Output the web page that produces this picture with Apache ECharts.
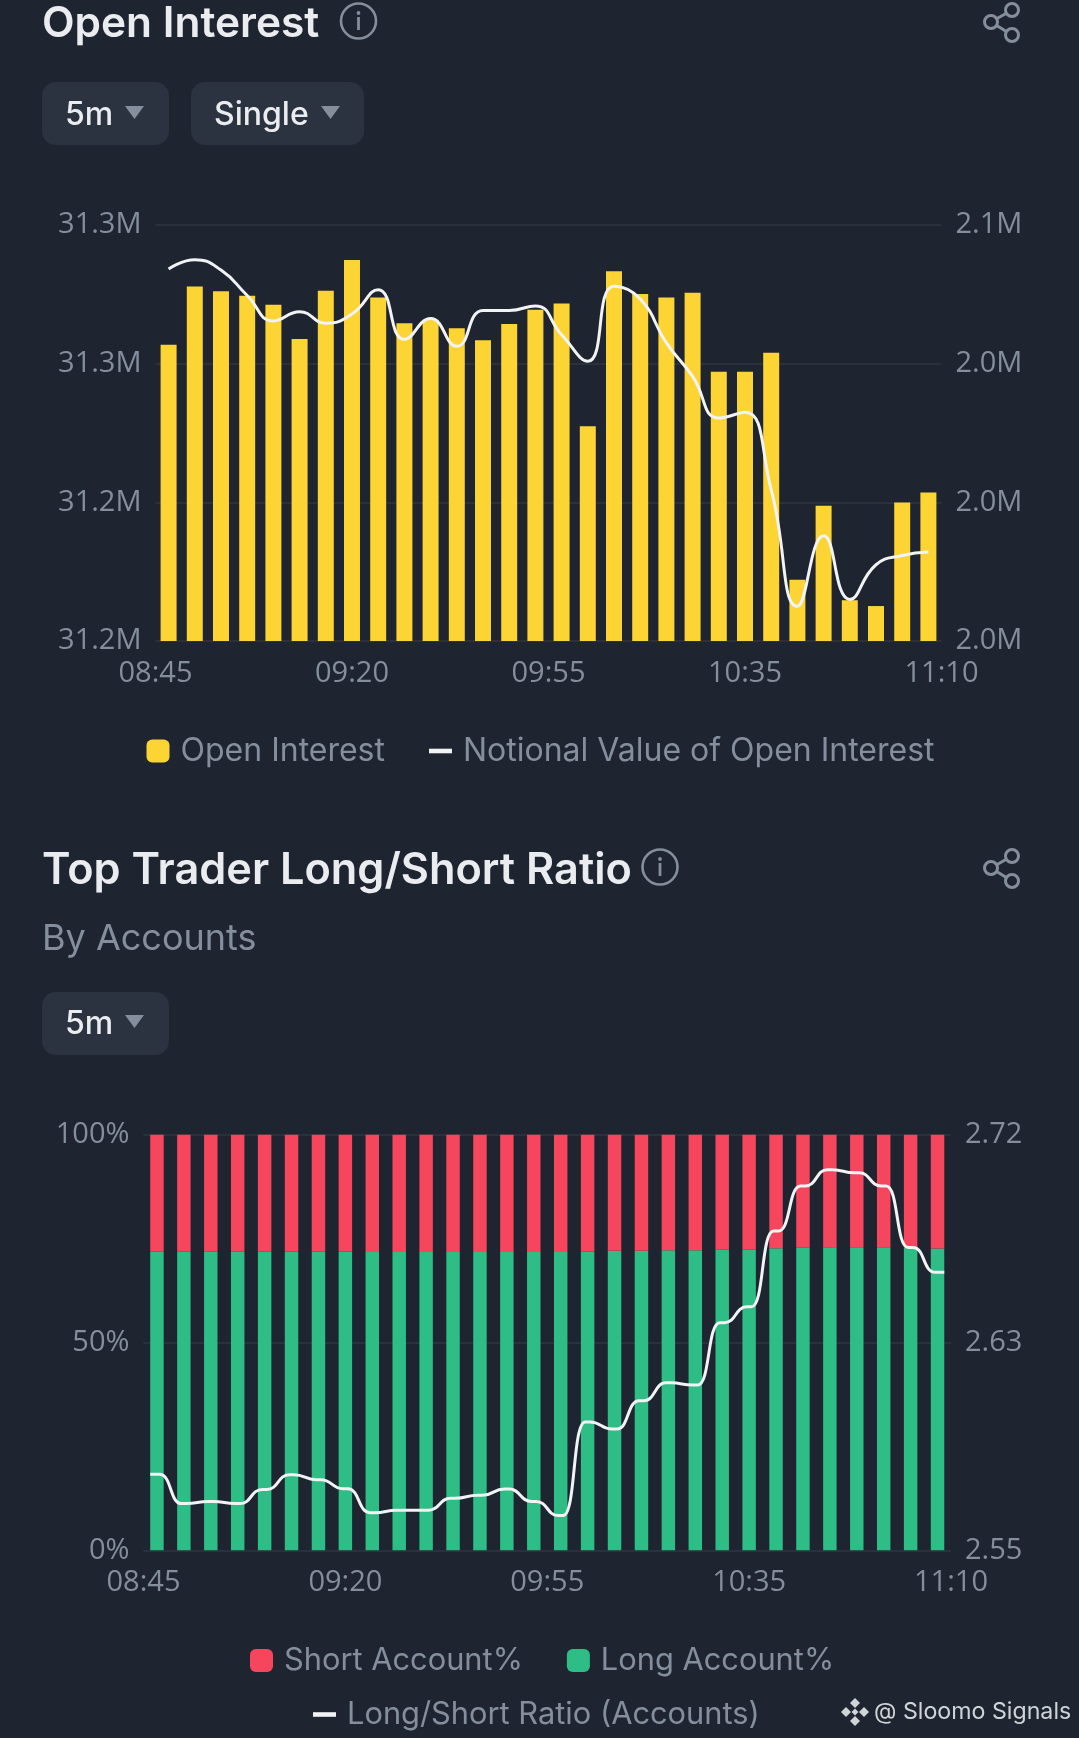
<!DOCTYPE html>
<html><head><meta charset="utf-8">
<style>html,body{margin:0;padding:0;background:#1e2530}#c{width:1079px;height:1738px}</style>
<script src="https://cdn.jsdelivr.net/npm/echarts@6/dist/echarts.min.js"></script>
</head><body><div id="c"></div>
<script>
const times = ['08:45','08:50','08:55','09:00','09:05','09:10','09:15','09:20','09:25','09:30','09:35','09:40','09:45','09:50','09:55','10:00','10:05','10:10','10:15','10:20','10:25','10:30','10:35','10:40','10:45','10:50','10:55','11:00','11:05','11:10'];
const tickLabels = ['08:45','09:20','09:55','10:35','11:10'];
const openInterest = [31.2712,31.2852,31.2841,31.2830,31.2808,31.2726,31.2842,31.2916,31.2826,31.2764,31.2772,31.2752,31.2723,31.2762,31.2796,31.2811,31.2516,31.2889,31.2834,31.2826,31.2837,31.2647,31.2647,31.2693,31.2147,31.2325,31.2098,31.2084,31.2333,31.2357];
const notionalValue = [2.0482,2.0490,2.0481,2.0459,2.0437,2.0445,2.0435,2.0443,2.0464,2.0421,2.0439,2.0415,2.0446,2.0446,2.0450,2.0425,2.0402,2.0467,2.0456,2.0418,2.0389,2.0353,2.0358,2.0291,2.0190,2.0251,2.0196,2.0226,2.0234,2.0237];
const longAccount = [71.9,71.9,71.9,71.9,71.9,71.9,71.9,71.9,71.8,71.8,71.8,71.8,71.8,71.8,71.8,71.8,71.9,72.1,72.1,72.2,72.2,72.3,72.4,72.7,72.8,72.9,72.9,72.9,72.8,72.6];
const shortAccount = [28.1,28.1,28.1,28.1,28.1,28.1,28.1,28.1,28.2,28.2,28.2,28.2,28.2,28.2,28.2,28.2,28.1,27.9,27.9,27.8,27.8,27.7,27.6,27.3,27.2,27.1,27.1,27.1,27.2,27.4];
const ratio = [2.5811,2.5691,2.5700,2.5691,2.5749,2.5809,2.5789,2.5752,2.5654,2.5664,2.5664,2.5713,2.5725,2.5751,2.5700,2.5642,2.6025,2.5996,2.6112,2.6185,2.6176,2.6431,2.6496,2.6806,2.6990,2.7057,2.7044,2.6990,2.6739,2.6637];

const FONT = 'Inter', AXISFONT = 'Open Sans';
const GREY = '#848e9c', WHITE = '#eaecef', PILL = '#2b3240', GRID = '#2f3642';
const YELLOW = '#fcd535', RED = '#f6465d', GREEN = '#2ebd85';
const LINE_ICON = 'path://M0 40h100v20H0z';
const fmtM = v => v.toFixed(1) + 'M';

function axisX(gridIndex){
  return [
    {type:'category',gridIndex,data:times,axisLabel:{show:false},axisTick:{show:false},axisLine:{show:false}},
    {type:'value',gridIndex,min:0,max:4,interval:1,position:'bottom',splitLine:{show:false},axisTick:{show:false},
     axisLine:{show:false},
     axisLabel:{color:GREY,fontFamily:AXISFONT,fontSize:29,margin:18,formatter:v=>tickLabels[v]}}
  ];
}
function axisY(gridIndex,pos,min,max,interval,fmt,grid){
  return {type:'value',gridIndex,position:pos,min,max,interval,
    axisLine:{show:false},axisTick:{show:false},
    splitLine:{show:grid,lineStyle:{color:GRID,width:1.5}},
    axisLabel:{color:GREY,fontFamily:AXISFONT,fontSize:29,margin:14,formatter:fmt,showMinLabel:true,showMaxLabel:true}};
}
const lineSeries = (name,data,x,y) => ({name,type:'line',data,xAxisIndex:x,yAxisIndex:y,smooth:0.5,showSymbol:false,symbol:'none',
  lineStyle:{color:'#f1f3f5',width:3},itemStyle:{color:'#f1f3f5'},z:5});
const legendStyle = size => ({color:GREY,fontFamily:FONT,fontSize:size,rich:{t:{color:GREY,fontFamily:FONT,fontSize:size,padding:[0,0,0,6]}}});
const legendFmt = '{t|{name}}';
// the ratio line eases flat across each bar, as the reference draws it
const ratioPoints = ratio.flatMap((v,i)=>[[i+0.41,v],[i+0.59,v]]);
ratioPoints[0][0] = 0.25; ratioPoints[ratioPoints.length-1][0] = 29.75;

function txt(x,y,text,size,weight,fill){
  return {type:'text',x,y,style:{text,fontFamily:FONT,fontSize:size,fontWeight:weight,fill,textVerticalAlign:'middle',verticalAlign:'middle'}};
}
function pill(x,y,w,h){return {type:'rect',shape:{x,y,width:w,height:h,r:14},style:{fill:PILL}};}
function tri(x,y){return {type:'polygon',shape:{points:[[x,y],[x+19,y],[x+9.5,y+13]]},style:{fill:GREY}};}
function info(cx,cy){
  return [{type:'circle',shape:{cx,cy,r:17.5},style:{fill:'none',stroke:GREY,lineWidth:2.6}},
    {type:'rect',shape:{x:cx-1.4,y:cy-4,width:2.8,height:13},style:{fill:GREY}},
    {type:'circle',shape:{cx,cy:cy-8,r:1.9},style:{fill:GREY}}];
}
function share(cx,cy){
  const a=[cx+11,cy-12],b=[cx-10,cy],c=[cx+11,cy+13];
  const s={fill:'none',stroke:GREY,lineWidth:3};
  return [{type:'line',shape:{x1:a[0],y1:a[1],x2:b[0],y2:b[1]},style:s},
    {type:'line',shape:{x1:c[0],y1:c[1],x2:b[0],y2:b[1]},style:s},
    {type:'circle',shape:{cx:a[0],cy:a[1],r:6.5},style:{fill:'#1e2530',stroke:GREY,lineWidth:3}},
    {type:'circle',shape:{cx:b[0],cy:b[1],r:6.5},style:{fill:'#1e2530',stroke:GREY,lineWidth:3}},
    {type:'circle',shape:{cx:c[0],cy:c[1],r:6.5},style:{fill:'#1e2530',stroke:GREY,lineWidth:3}}];
}
function diamond(cx,cy,r){return {type:'polygon',shape:{points:[[cx,cy-r],[cx+r,cy],[cx,cy+r],[cx-r,cy]]},style:{fill:'#d0d3d8'}};}
const graphics = [
  txt(42,24,'Open Interest',42.4,600,WHITE),...info(358.5,21),...share(1001,22),
  pill(42,82,127,63),txt(65,115,'5m',32,500,WHITE),tri(125,106),
  pill(191,82,173,63),txt(214,115,'Single',32,500,WHITE),tri(321,106),
  txt(42,871,'Top Trader Long/Short Ratio',43.3,600,WHITE),...info(660,867),...share(1001,868),
  txt(42,939,'By Accounts',36,400,GREY),
  pill(42,992,127,63),txt(65,1024,'5m',32,500,WHITE),tri(125,1015),
  diamond(855,1703,5),diamond(846,1712,5),diamond(864,1712,5),diamond(855,1721,5),diamond(855,1712,3.5),
  txt(874,1712,'@ Sloomo Signals',23.2,400,'#d0d3d8')
];

const option = {
  backgroundColor:'#1e2530',
  animation:false,
  grid:[
    {left:155.5,top:225,width:786,height:416,containLabel:false},
    {left:143.5,top:1134.7,width:807.5,height:415.6,containLabel:false}
  ],
  xAxis:[...axisX(0),...axisX(1),{type:'value',gridIndex:1,min:0,max:30,show:false}],
  yAxis:[
    axisY(0,'left',31.2,31.3,0.1/3,fmtM,true),
    axisY(0,'right',2.016,2.052,0.012,fmtM,false),
    axisY(1,'left',0,100,50,v=>v+'%',true),
    axisY(1,'right',2.55,2.72,0.085,v=>v.toFixed(2),false)
  ],
  legend:[
    {left:146.5,top:735,itemWidth:23,itemHeight:23,itemGap:44,textStyle:legendStyle(32),formatter:legendFmt,padding:0,
     data:[{name:'Open Interest',icon:'roundRect'},{name:'Notional Value of Open Interest',icon:LINE_ICON}]},
    {left:250,top:1645,itemWidth:23,itemHeight:23,itemGap:44,textStyle:legendStyle(30.8),formatter:legendFmt,padding:0,
     data:[{name:'Short Account%',icon:'roundRect'},{name:'Long Account%',icon:'roundRect'}]},
    {left:313,top:1699,itemWidth:23,itemHeight:23,textStyle:legendStyle(30.8),formatter:legendFmt,padding:0,
     data:[{name:'Long/Short Ratio (Accounts)',icon:LINE_ICON}]}
  ],
  graphic:{elements:graphics},
  series:[
    {name:'Open Interest',type:'bar',data:openInterest,xAxisIndex:0,yAxisIndex:0,barWidth:'61%',itemStyle:{color:YELLOW}},
    lineSeries('Notional Value of Open Interest',notionalValue,0,1),
    {name:'Long Account%',type:'bar',stack:'acc',data:longAccount,xAxisIndex:2,yAxisIndex:2,barWidth:'50%',itemStyle:{color:GREEN}},
    {name:'Short Account%',type:'bar',stack:'acc',data:shortAccount,xAxisIndex:2,yAxisIndex:2,barWidth:'50%',itemStyle:{color:RED}},
    lineSeries('Long/Short Ratio (Accounts)',ratioPoints,4,3)
  ]
};
echarts.init(document.getElementById('c'),null,{renderer:'canvas'}).setOption(option);
</script></body></html>
